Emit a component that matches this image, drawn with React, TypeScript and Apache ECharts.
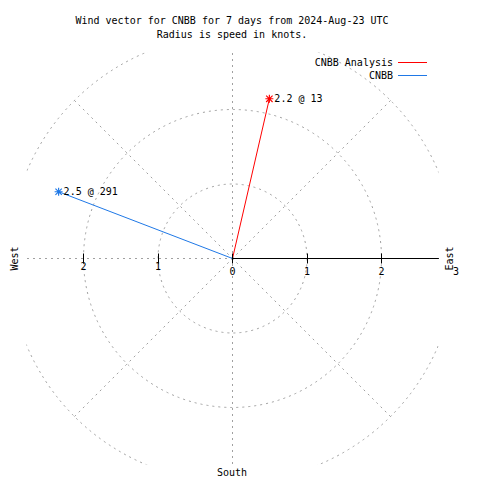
import React, { useEffect, useRef } from "react";
import * as echarts from "echarts";

// ---- data ----
const seriesNames = ["CNBB Analysis", "CNBB"];
const speeds = [2.2, 2.5]; // knots
const directions = [13, 291]; // degrees
const ringValues = [0, 1, 2, 3];
const rightTickValues = [0, 1, 2];
const rightLabelValues = [0, 1, 2, 3];
const leftTickValues = [1, 2];
const leftLabelValues = [1, 2];
const titleLines = [
  "Wind vector for CNBB for 7 days from 2024-Aug-23 UTC",
  "Radius is speed in knots.",
];
const compassLabels = ["East", "West", "South"];

const MONO = "DejaVu Sans Mono";
const GRID = "#a0a0a0";
const COLORS = ["#ff0000", "#1f78e6"];

const ASTERISK =
  "path://M6,0L8,0L8,14L6,14Z M0,6L14,6L14,8L0,8Z M0.7,2.1L2.1,0.7L13.3,11.9L11.9,13.3Z M11.9,0.7L13.3,2.1L2.1,13.3L0.7,11.9Z";

const CX = 232.5;
const CY = 258.5;
const PX_PER_KNOT = 74.5;
const HALF = 206;
const TICK_DROP = 5;

export default function App() {
  const ref = useRef<HTMLDivElement>(null);

  useEffect(() => {
    if (!ref.current) return;
    const chart = echarts.init(ref.current, null, { renderer: "svg" });
    const rMax = ringValues[ringValues.length - 1];
    const clipMax = HALF / PX_PER_KNOT;

    const dashed = { color: GRID, type: [2, 4] as any, width: 1 };
    const maskFill = { fill: "#ffffff" };
    const tickAxisBase = {
      type: "value",
      min: 0,
      max: rMax,
      interval: 1,
      position: "bottom",
      z: 10,
      axisLine: { show: false },
      splitLine: { show: false },
    };

    const option: any = {
      animation: false,
      polar: { center: [CX, CY], radius: rMax * PX_PER_KNOT },
      radiusAxis: {
        min: 0,
        max: rMax,
        interval: 1,
        z: 0,
        axisLine: { show: false },
        axisTick: { show: false },
        axisLabel: { show: false },
        splitLine: { show: true, lineStyle: dashed },
      },
      angleAxis: {
        min: 0,
        max: 360,
        interval: 45,
        startAngle: 90,
        clockwise: true,
        z: 0,
        axisLine: { show: false },
        axisTick: { show: false },
        axisLabel: { show: false },
        splitLine: { show: true, lineStyle: dashed },
      },
      grid: [
        { left: CX, top: CY - 100, width: HALF, height: 100, show: false },
        { left: CX, top: CY + TICK_DROP - 100, width: rMax * PX_PER_KNOT, height: 100, show: false },
        {
          left: CX - rMax * PX_PER_KNOT,
          top: CY + TICK_DROP - 100,
          width: rMax * PX_PER_KNOT,
          height: 100,
          show: false,
        },
      ],
      xAxis: [
        {
          type: "value",
          gridIndex: 0,
          min: 0,
          max: clipMax,
          position: "bottom",
          z: 10,
          axisLine: { show: true, lineStyle: { color: "#000", width: 1 } },
          axisTick: { show: false },
          axisLabel: { show: false },
          splitLine: { show: false },
        },
        {
          ...tickAxisBase,
          gridIndex: 1,
          axisTick: {
            show: true,
            inside: true,
            length: 10,
            customValues: rightTickValues,
            lineStyle: { color: "#000", width: 1 },
          },
          axisLabel: {
            show: true,
            customValues: rightLabelValues,
            margin: 3,
            color: "#000",
            fontFamily: MONO,
            fontSize: 10,
          },
        },
        {
          ...tickAxisBase,
          gridIndex: 2,
          inverse: true,
          axisTick: {
            show: true,
            inside: true,
            length: 10,
            customValues: leftTickValues,
            lineStyle: { color: "#000", width: 1 },
          },
          axisLabel: {
            show: true,
            customValues: leftLabelValues,
            margin: -2,
            color: "#000",
            fontFamily: MONO,
            fontSize: 10,
          },
        },
      ],
      yAxis: [
        { type: "value", gridIndex: 0, show: false },
        { type: "value", gridIndex: 1, show: false },
        { type: "value", gridIndex: 2, show: false },
      ],
      legend: {
        orient: "vertical",
        right: 53,
        top: 56,
        align: "right",
        itemGap: 0,
        itemWidth: 29,
        itemHeight: 1,
        padding: 0,
        z: 12,
        data: seriesNames.map((n) => ({ name: n, icon: "rect" })),
        itemStyle: { borderWidth: 0 },
        textStyle: {
          fontFamily: MONO,
          fontSize: 10,
          color: "#000",
          lineHeight: 13,
        },
      },
      graphic: [
        // the plot area is clipped to a square around the center
        { type: "rect", z: 5, silent: true, shape: { x: 0, y: 0, width: 480, height: CY - HALF }, style: maskFill },
        { type: "rect", z: 5, silent: true, shape: { x: 0, y: CY + HALF, width: 480, height: 480 - CY - HALF }, style: maskFill },
        { type: "rect", z: 5, silent: true, shape: { x: 0, y: 0, width: CX - HALF, height: 480 }, style: maskFill },
        { type: "rect", z: 5, silent: true, shape: { x: CX + HALF, y: 0, width: 480 - CX - HALF, height: 480 }, style: maskFill },
        {
          type: "text",
          z: 20,
          x: 232,
          y: 20.5,
          style: { text: titleLines[0], fill: "#000", font: `10px '${MONO}'`, align: "center", verticalAlign: "middle" },
        },
        {
          type: "text",
          z: 20,
          x: 232,
          y: 34,
          style: { text: titleLines[1], fill: "#000", font: `10px '${MONO}'`, align: "center", verticalAlign: "middle" },
        },
        {
          type: "text",
          z: 20,
          x: 449.5,
          y: 258.5,
          rotation: Math.PI / 2,
          style: { text: compassLabels[0], fill: "#000", font: `10px '${MONO}'`, align: "center", verticalAlign: "middle" },
        },
        {
          type: "text",
          z: 20,
          x: 14.5,
          y: 258.5,
          rotation: Math.PI / 2,
          style: { text: compassLabels[1], fill: "#000", font: `10px '${MONO}'`, align: "center", verticalAlign: "middle" },
        },
        {
          type: "text",
          z: 20,
          x: 232,
          y: 472.5,
          style: { text: compassLabels[2], fill: "#000", font: `10px '${MONO}'`, align: "center", verticalAlign: "middle" },
        },
      ],
      series: seriesNames.map((name, i) => ({
        name,
        type: "line",
        coordinateSystem: "polar",
        z: 3,
        symbol: ASTERISK,
        symbolSize: 8,
        lineStyle: { color: COLORS[i], width: 1 },
        itemStyle: { color: COLORS[i] },
        label: { show: false },
        emphasis: { disabled: true },
        data: [
          { value: [0, directions[i]], symbol: "none" },
          {
            value: [speeds[i], directions[i]],
            label: {
              show: true,
              position: "right",
              distance: 1,
              formatter: `${speeds[i]} @ ${directions[i]}`,
              color: "#000",
              fontFamily: MONO,
              fontSize: 10,
            },
          },
        ],
      })),
    };

    chart.setOption(option);
    return () => chart.dispose();
  }, []);

  return (
    <div
      ref={ref}
      style={{ position: "fixed", left: 0, top: 0, width: 480, height: 480, background: "#fff" }}
    />
  );
}
